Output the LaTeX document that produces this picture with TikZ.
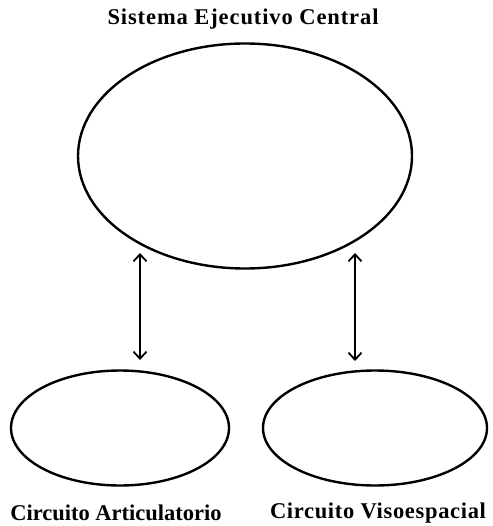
\documentclass[tikz,border=0pt]{standalone}
\usepackage{fontspec}
\setmainfont{Liberation Serif}
\usetikzlibrary{arrows.meta,shapes.geometric}
\begin{document}
\begin{tikzpicture}[x=1pt,y=-1pt,
  oval/.style={draw,line width=2.4pt,ellipse,inner sep=0pt},
  lbl/.style={font=\fontsize{22.5}{24}\selectfont\bfseries,inner sep=0pt},
  link/.style={line width=2pt,{Straight Barb[length=7pt,width=13pt,line width=1.8pt]}-{Straight Barb[length=7pt,width=13pt,line width=1.8pt]}}]
\useasboundingbox (0,0) rectangle (492,526);
\node[lbl] (title) at (243,19) {\addfontfeature{LetterSpace=4}Sistema Ejecutivo Central};
\node[oval,minimum width=334pt,minimum height=225pt] (big) at (245,156) {};
\node[oval,minimum width=218pt,minimum height=115pt] (art) at (120,428) {};
\node[oval,minimum width=224pt,minimum height=115pt] (vis) at (375,428) {};
\coordinate (at1) at (140,253);
\coordinate (ab1) at (140,360);
\coordinate (at2) at (355,253);
\coordinate (ab2) at (355,361);
\draw[link] (at1) -- (ab1);
\draw[link] (at2) -- (ab2);
\node[lbl] (la) at (116,513) {Circuito Articulatorio};
\node[lbl] (lv) at (378,513) {\addfontfeature{LetterSpace=3}Circuito Visoespacial};
\end{tikzpicture}
\end{document}
